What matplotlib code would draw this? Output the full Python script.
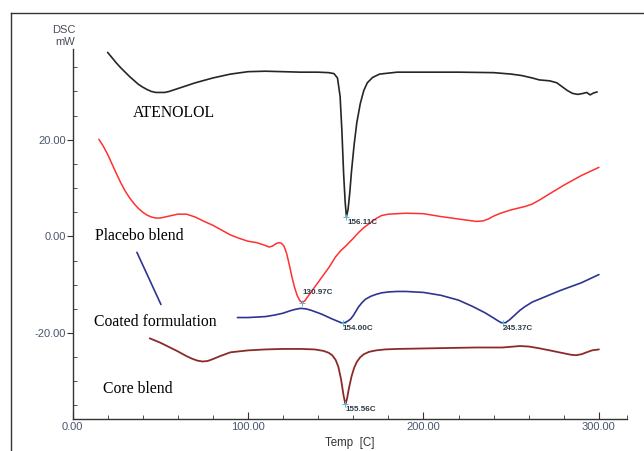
import matplotlib.pyplot as plt
from matplotlib.lines import Line2D
from matplotlib.ticker import MultipleLocator, FixedLocator

# thermograms (temperature in C, heat flow in mW)
atenolol_t = [20, 22.5, 25, 27.5, 30, 32.5, 35, 37.5, 40, 42.5, 45, 47.5, 50, 52.5, 55, 60, 65, 70, 80,
              90, 100, 110, 120, 130, 140, 146, 149, 151, 152.5, 153.5, 154.5, 155.4, 156.11, 157,
              158, 159, 160.5, 162, 164, 166, 168, 171, 175, 185, 200, 220, 240, 250, 256, 262, 266,
              272, 276, 279, 282, 285, 288, 291, 293, 295, 297, 299]
atenolol_q = [38.1, 37.0, 35.9, 34.9, 34.0, 33.1, 32.3, 31.5, 30.9, 30.4, 30.0, 29.8, 29.8, 29.8, 30.0,
              30.6, 31.2, 31.8, 32.8, 33.6, 34.1, 34.2, 34.1, 34.0, 34.0, 33.9, 33.7, 32.8, 29.0,
              22.0, 13.0, 7.0, 4.1, 5.5, 9.0, 13.5, 19.0, 23.5, 27.5, 30.2, 31.8, 32.9, 33.6, 34.0,
              34.0, 34.0, 33.9, 33.6, 33.3, 32.8, 32.4, 32.2, 31.8, 31.0, 30.2, 29.6, 29.4, 29.6,
              29.8, 29.3, 29.7, 29.9]

placebo_t = [15, 17.5, 20, 22.5, 25, 27.5, 30, 32.5, 35, 37.5, 40, 42.5, 45, 47.5, 50, 55, 60, 65, 70,
             75, 80, 85, 90, 95, 100, 105, 110, 112, 114, 116, 117.5, 119, 120.5, 122, 123.5, 125,
             126.5, 128, 129.5, 130.97, 132.5, 134, 138, 142, 146, 150, 153, 156, 160, 163, 166, 170,
             173, 176, 180, 190, 200, 210, 220, 230, 234, 237, 240, 244, 250, 258, 262, 266, 270, 280,
             290, 300]
placebo_q = [20.1, 18.7, 17.0, 15.0, 13.0, 11.1, 9.4, 8.0, 6.8, 5.8, 5.0, 4.4, 4.0, 3.8, 3.8, 4.2, 4.6,
             4.6, 4.0, 3.1, 2.3, 1.3, 0.3, -0.4, -1.0, -1.3, -1.9, -2.2, -2.0, -1.5, -1.3, -1.4, -2.0,
             -3.5, -5.8, -8.3, -10.5, -12.2, -13.3, -13.7, -13.3, -12.5, -10.5, -8.5, -6.5, -4.2,
             -2.9, -1.9, -0.4, 0.8, 1.8, 2.9, 3.7, 4.3, 4.6, 4.8, 4.7, 4.1, 3.6, 3.1, 3.2, 3.6, 4.2,
             4.8, 5.5, 6.2, 6.7, 7.5, 8.4, 10.6, 12.6, 14.3]

coated_t = [94, 100, 110, 115, 120, 124, 127, 130, 133, 136, 139, 142, 145, 148, 150, 152, 154.0, 155.5,
            157, 158.5, 160, 161.5, 163, 165, 167, 170, 173, 176, 180, 185, 190, 200, 210, 220, 228,
            235, 240, 243, 245.37, 247, 249, 252, 255, 258, 262, 268, 278, 290, 300]
coated_q = [-16.8, -16.8, -16.6, -16.3, -15.9, -15.4, -15.1, -14.9, -15.0, -15.3, -15.7, -16.1, -16.6,
            -17.1, -17.4, -17.7, -18.0, -17.8, -17.5, -17.1, -16.4, -15.5, -14.6, -13.7, -13.0,
            -12.4, -12.0, -11.7, -11.5, -11.4, -11.4, -11.6, -12.2, -13.2, -14.5, -15.8, -16.9,
            -17.6, -18.0, -17.8, -17.3, -16.3, -15.3, -14.5, -13.6, -12.7, -11.2, -9.6, -7.9]
# stray pen stroke of the coated trace
coated_stub_t = [36.7, 50.4]
coated_stub_q = [-3.3, -14.1]

core_t = [44, 50, 55, 60, 65, 68, 71, 74, 77, 80, 84, 90, 100, 110, 120, 130, 138, 143, 146, 148, 150,
          151.5, 153, 154.5, 155.56, 156.5, 157.5, 159, 160.5, 162, 164, 166, 169, 173, 178, 185, 200,
          215, 230, 245, 255, 260, 265, 272, 280, 284, 287, 290, 293, 296, 300]
core_q = [-21.1, -22.0, -22.9, -23.8, -24.8, -25.3, -25.7, -25.9, -25.8, -25.4, -24.8, -24.0, -23.6,
          -23.4, -23.3, -23.3, -23.4, -23.7, -24.1, -24.6, -25.6, -27.0, -29.5, -33.0, -34.8, -33.5,
          -31.5, -29.0, -27.2, -26.0, -25.0, -24.4, -23.9, -23.6, -23.4, -23.3, -23.2, -23.1, -23.0,
          -23.0, -22.7, -22.8, -23.1, -23.6, -24.2, -24.5, -24.6, -24.4, -24.0, -23.6, -23.4]

# peak temperatures and the label offsets (points)
peaks = [(156.11, 4.1, (1, -2)), (130.97, -13.7, (0, 5)), (154.00, -18.0, (0, -1)),
         (245.37, -18.0, (0, -1)), (155.56, -34.8, (0, -1))]

names = ['ATENOLOL', 'Placebo blend', 'Coated formulation', 'Core blend']
name_pos = [(34.5, 25.5), (12.8, 0.0), (12.3, -17.8), (17.4, -31.5)]

tick_col = '#4a5670'
axis_col = '#333333'
sans = 'Liberation Sans'

fig = plt.figure(figsize=(6.44, 4.51), dpi=100)
ax = fig.add_axes([0.1126, 0.0710, 0.8610, 0.8204])

line_kw = dict(solid_joinstyle='round', solid_capstyle='round')
ax.plot(atenolol_t, atenolol_q, color='#262626', lw=1.2, **line_kw)
ax.plot(placebo_t, placebo_q, color='#ff3030', lw=1.1, **line_kw)
ax.plot(coated_t, coated_q, color='#2e3590', lw=1.2, **line_kw)
ax.plot(coated_stub_t, coated_stub_q, color='#2e3590', lw=1.2, **line_kw)
ax.plot(core_t, core_q, color='#8c2a2a', lw=1.3, **line_kw)

for t, q, off in peaks:
    ax.plot(t, q, marker='+', color='#5ab8d8', ms=4.5, mew=0.7)
    va = 'bottom' if off[1] > 0 else 'top'
    ax.annotate('%.2fC' % t, (t, q), xytext=off, textcoords='offset points', family=sans,
                ha='left', va=va, fontsize=5.8, fontweight='bold', color='#2f3a42')

for name, (x, y) in zip(names, name_pos):
    ax.text(x, y, name, family='Liberation Serif', fontsize=11.3, ha='left', va='center', color='black')

ax.set_xlim(0, 316)
ax.set_ylim(-37.8, 38.8)
ax.xaxis.set_major_locator(FixedLocator([0, 100, 200, 300]))
ax.xaxis.set_minor_locator(FixedLocator([20, 40, 60, 80, 120, 140, 160, 180, 220, 240, 260, 280, 316]))
ax.yaxis.set_major_locator(FixedLocator([-20, 0, 20]))
ax.yaxis.set_minor_locator(MultipleLocator(5))
ax.set_xticklabels(['0.00', '100.00', '200.00', '300.00'], family=sans)
ax.set_yticklabels(['-20.00', '0.00', '20.00'], family=sans)

for s in ['top', 'right']:
    ax.spines[s].set_visible(False)
for s in ['left', 'bottom']:
    ax.spines[s].set_color(axis_col)
    ax.spines[s].set_linewidth(1.0)

ax.tick_params(axis='x', which='both', direction='in', color=axis_col, labelcolor=tick_col,
               labelsize=8, pad=2)
ax.tick_params(axis='x', which='major', length=5)
ax.tick_params(axis='x', which='minor', length=3)
ax.tick_params(axis='y', which='major', direction='out', length=4, color=axis_col,
               labelcolor=tick_col, labelsize=8, pad=1)
ax.tick_params(axis='y', which='minor', direction='in', length=3, color=axis_col)

ax.set_xlabel('Temp  [C]', family=sans, fontsize=8.3, color='#333333', labelpad=4)

fig.text(0.117, 0.933, 'DSC', family=sans, ha='right', va='center', fontsize=8, color='#4a4f5a')
fig.text(0.117, 0.907, 'mW', family=sans, ha='right', va='center', fontsize=8, color='#4a4f5a')

# page border (left and top edges)
fig.add_artist(Line2D([11 / 644, 11 / 644], [0, 1 - 13 / 451], transform=fig.transFigure,
                      color='#333333', lw=1.0))
fig.add_artist(Line2D([11 / 644, 1], [1 - 13 / 451, 1 - 13 / 451], transform=fig.transFigure,
                      color='#333333', lw=1.0))

fig.savefig('out.png', dpi=100, facecolor='white')
